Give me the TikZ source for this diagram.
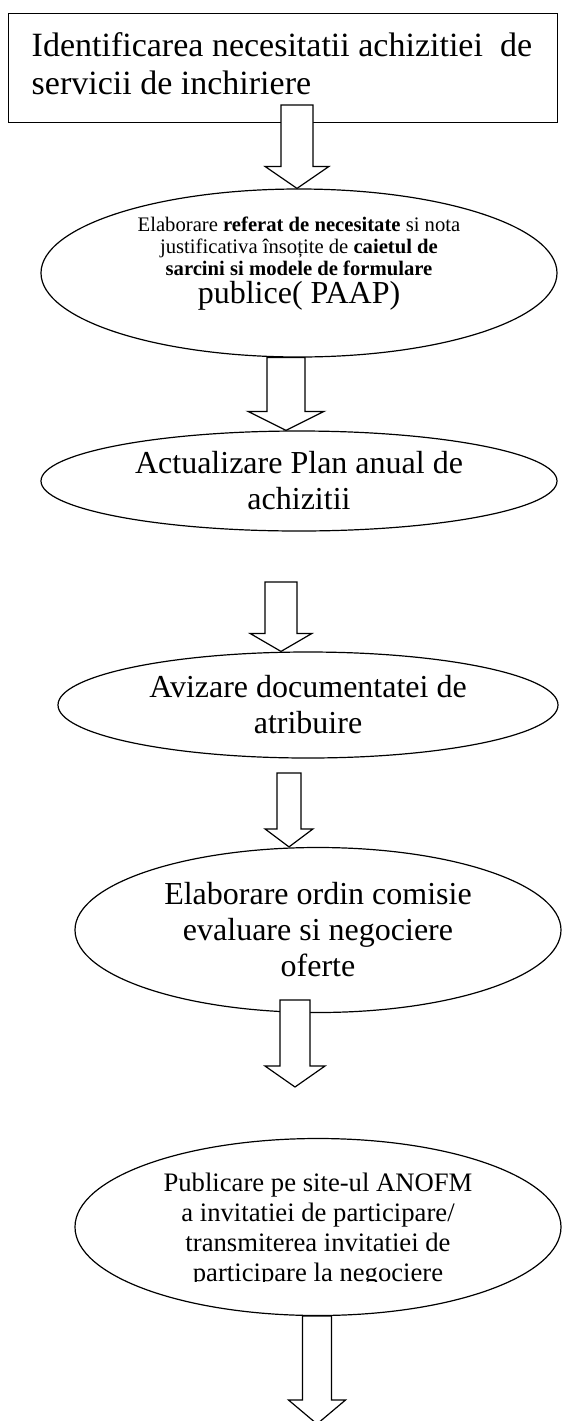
\documentclass[tikz,border=0pt]{standalone}
\usepackage{fontspec}
\setmainfont{Liberation Serif}
\usetikzlibrary{shapes.geometric,calc}
\newcommand{\blockArrow}[5]{%%
  %% #1 tail, #2 tip, #3 half shaft, #4 half head, #5 head length
  \draw[arrowStyle] ($(#1)+(-#3,0)$) -- ($(#2)+(-#3,-#5)$) -- ($(#2)+(-#4,-#5)$)
    -- (#2) -- ($(#2)+(#4,-#5)$) -- ($(#2)+(#3,-#5)$) -- ($(#1)+(#3,0)$) -- cycle;
}
\begin{document}
\begin{tikzpicture}[x=0.75pt,y=-0.75pt,%%
  boxStyle/.style={draw,line width=0.9pt,anchor=north west,inner sep=0pt,%%
    minimum width=549*0.75pt,minimum height=109*0.75pt},%%
  ellipseStyle/.style 2 args={draw,ellipse,line width=0.9pt,inner sep=0pt,%%
    align=center,minimum width=#1*0.75pt,minimum height=#2*0.75pt},%%
  arrowStyle/.style={line width=0.9pt,draw,fill=white,line join=miter},%%
  bigText/.style={font=\fontsize{24}{27}\selectfont}%%
]
\useasboundingbox (0,0) rectangle (561,1421);
%%
%% The first step, in a box.
\node[boxStyle] (needBox) at (8,13) {};
\node[anchor=west,align=left,font=\fontsize{25.5}{28.5}\selectfont] (needText)
  at ([xshift=19*0.75pt,yshift=3pt]needBox.west)
  {Identificarea necesitatii achizitiei\ \ de\\servicii de inchiriere};
%%
%% The steps, in ellipses.
\node[ellipseStyle={516}{168},font=\fontsize{15.5}{16.5}\selectfont] (referatE)
  at (299,273)
  {Elaborare \textbf{referat de necesitate} si nota\\
   justificativa însoțite de \textbf{caietul de}\\
   \textbf{sarcini si modele de formulare}\\[3.5pt]
   \fontsize{24}{26}\selectfont publice( PAAP)\rule[-19pt]{0pt}{1pt}};
\node[ellipseStyle={516}{100},bigText] (planE) at (299,481)
  {Actualizare Plan anual de\\achizitii};
\node[ellipseStyle={500}{106},bigText] (avizE) at (308,705)
  {Avizare documentatei de\\atribuire};
\node[ellipseStyle={486}{165},bigText] (ordinE) at (318,930)
  {Elaborare ordin comisie\\evaluare si negociere\\oferte};
\node[ellipseStyle={486}{177}] (publicE) at (318,1227) {};
\begin{scope}
  \clip (0,0) rectangle (561,1281);
  \node[align=center,font=\fontsize{20}{22.5}\selectfont] (publicText)
    at ([yshift=-2pt]publicE.center)
    {Publicare pe site-ul ANOFM\\a invitatiei de participare/\\%%
     transmiterea invitatiei de\\participare la negociere};
\end{scope}
%%
%% The block arrows between the steps.
\coordinate (colA) at (297,0);
\coordinate (colB) at (286,0);
\coordinate (colC) at (281,0);
\coordinate (colD) at (289,0);
\coordinate (colF) at (317,0);
\coordinate (tailA) at (297,105);
\coordinate (tailC) at (281,582);
\coordinate (tailD) at (289,773);
\coordinate (tailE) at (295,1000);
\coordinate (tipE) at (295,1087);
\coordinate (tipF) at (317,1424);
\blockArrow{tailA}{colA |- referatE.north}{16}{32}{22}
\blockArrow{colB |- referatE.south}{colB |- planE.north}{19}{38}{19}
\blockArrow{tailC}{colC |- avizE.north}{16}{31}{18}
\blockArrow{tailD}{colD |- ordinE.north}{12}{24}{18}
\blockArrow{tailE}{tipE}{15}{30}{21}
\blockArrow{colF |- publicE.south}{tipF}{14.5}{28.5}{24}
\end{tikzpicture}
\end{document}
